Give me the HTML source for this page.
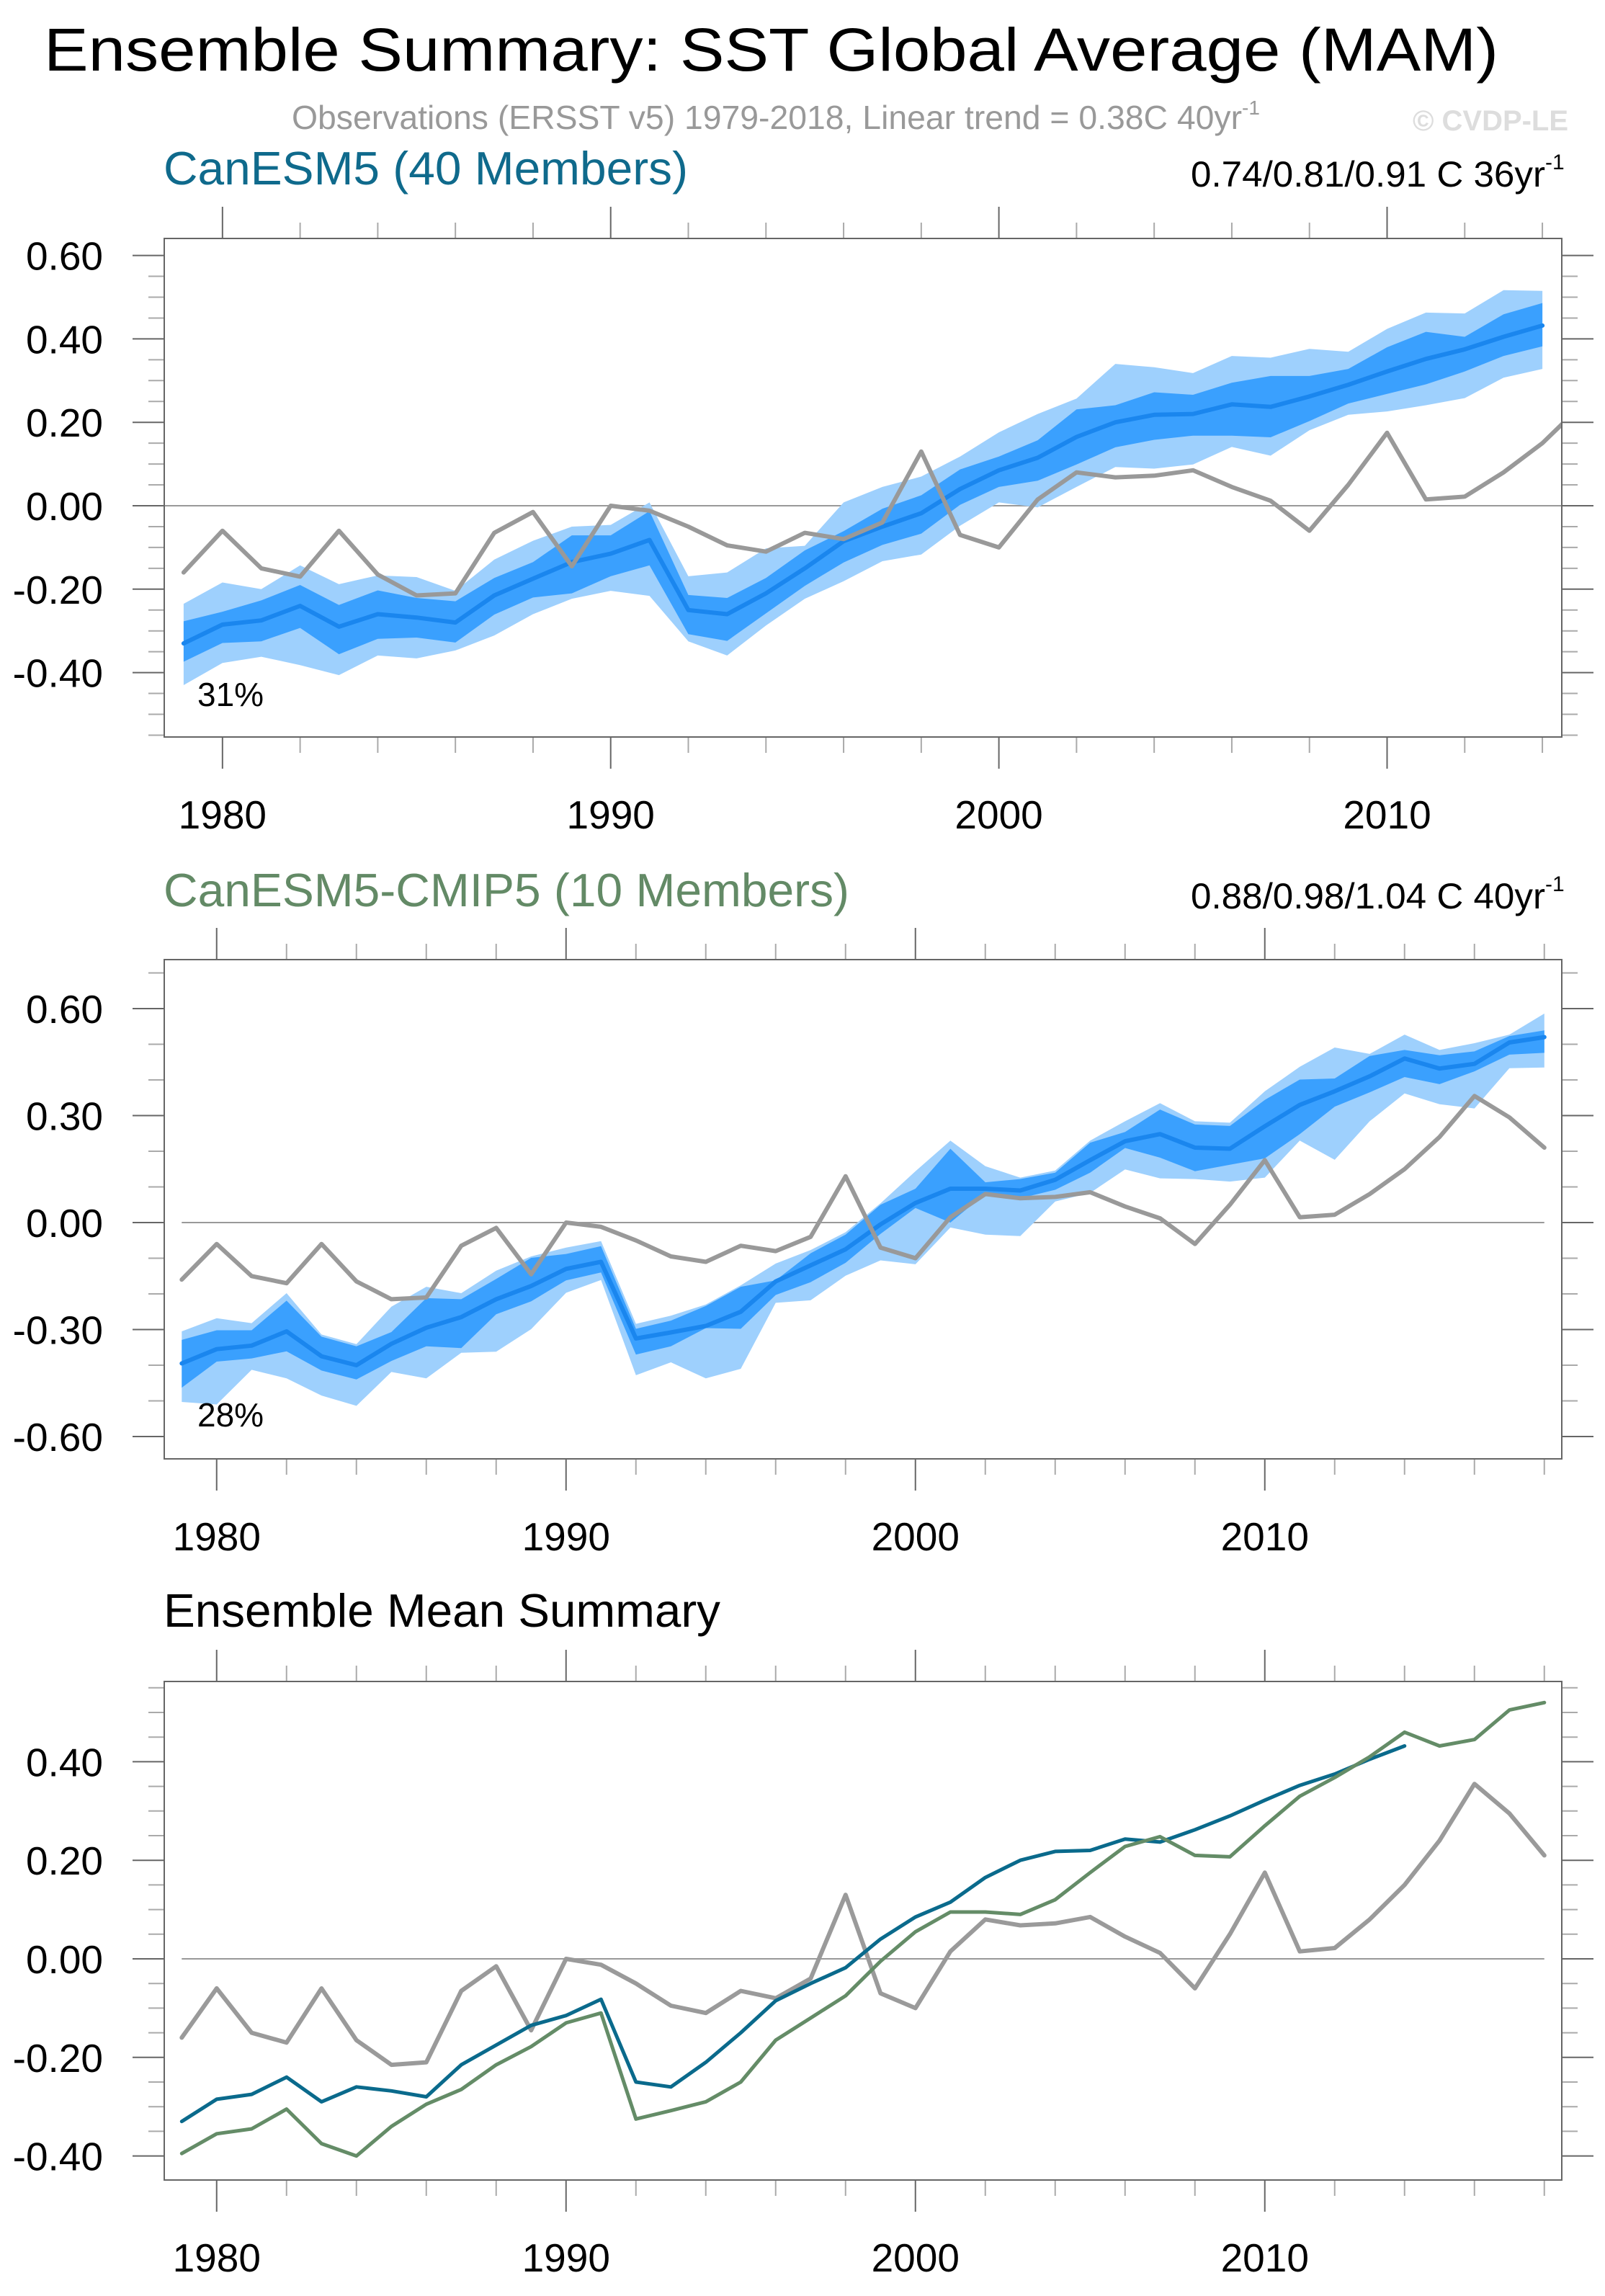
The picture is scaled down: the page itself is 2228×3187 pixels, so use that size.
<!DOCTYPE html>
<html><head><meta charset="utf-8"><style>
html,body{margin:0;padding:0;background:#fff;}
svg{display:block;font-family:"Liberation Sans",Arial,sans-serif;}
</style></head><body>
<svg id="chart" width="2228" height="3187" viewBox="0 0 2228 3187" xmlns="http://www.w3.org/2000/svg">
<rect width="2228" height="3187" fill="#fff"/>
<text x="61" y="98" font-size="84" textLength="2019" lengthAdjust="spacingAndGlyphs" fill="#000">Ensemble Summary: SST Global Average (MAM)</text>
<text x="405" y="179" font-size="46" fill="#999"><tspan textLength="1319" lengthAdjust="spacingAndGlyphs">Observations (ERSST v5) 1979-2018, Linear trend = 0.38C 40yr</tspan><tspan font-size="28" dy="-20">-1</tspan></text>
<text x="1961" y="181" font-size="40" font-weight="bold" fill="#ddd" textLength="216" lengthAdjust="spacingAndGlyphs">© CVDP-LE</text>
<text x="227" y="256" font-size="65" fill="#0f6a8c" textLength="728" lengthAdjust="spacingAndGlyphs">CanESM5 (40 Members)</text>
<text x="1653" y="259" font-size="50" fill="#000"><tspan textLength="492" lengthAdjust="spacingAndGlyphs">0.74/0.81/0.91 C 36yr</tspan><tspan font-size="30" dy="-24">-1</tspan></text>
<text x="227" y="1258" font-size="65" fill="#638a66" textLength="952" lengthAdjust="spacingAndGlyphs">CanESM5-CMIP5 (10 Members)</text>
<text x="1653" y="1261" font-size="50" fill="#000"><tspan textLength="492" lengthAdjust="spacingAndGlyphs">0.88/0.98/1.04 C 40yr</tspan><tspan font-size="30" dy="-24">-1</tspan></text>
<text x="227" y="2258" font-size="65" fill="#000" textLength="773" lengthAdjust="spacingAndGlyphs">Ensemble Mean Summary</text>
</svg>
<script>
// ---- data ----
const years1 = [1979,1980,1981,1982,1983,1984,1985,1986,1987,1988,1989,1990,1991,1992,1993,1994,1995,1996,1997,1998,1999,2000,2001,2002,2003,2004,2005,2006,2007,2008,2009,2010,2011,2012,2013,2014];
const years2 = [1979,1980,1981,1982,1983,1984,1985,1986,1987,1988,1989,1990,1991,1992,1993,1994,1995,1996,1997,1998,1999,2000,2001,2002,2003,2004,2005,2006,2007,2008,2009,2010,2011,2012,2013,2014,2015,2016,2017,2018];
const obs = [-0.16,-0.06,-0.15,-0.17,-0.06,-0.165,-0.215,-0.21,-0.065,-0.015,-0.145,0.0,-0.012,-0.05,-0.095,-0.11,-0.065,-0.08,-0.04,0.13,-0.07,-0.10,0.015,0.08,0.068,0.072,0.085,0.045,0.012,-0.06,0.05,0.175,0.015,0.022,0.08,0.15,0.24,0.355,0.295,0.21];
const canMean = [-0.33,-0.285,-0.275,-0.24,-0.29,-0.26,-0.268,-0.28,-0.215,-0.175,-0.135,-0.115,-0.082,-0.25,-0.26,-0.21,-0.15,-0.085,-0.05,-0.018,0.04,0.085,0.115,0.165,0.2,0.218,0.22,0.243,0.237,0.262,0.29,0.322,0.352,0.375,0.405,0.432];
const canOuterTop = [-0.235,-0.184,-0.2,-0.143,-0.188,-0.167,-0.171,-0.204,-0.129,-0.084,-0.05,-0.046,0.008,-0.169,-0.16,-0.102,-0.096,0.008,0.045,0.07,0.118,0.176,0.22,0.257,0.34,0.332,0.318,0.359,0.355,0.376,0.369,0.424,0.463,0.461,0.517,0.515];
const canInnerTop = [-0.277,-0.254,-0.227,-0.19,-0.238,-0.203,-0.221,-0.229,-0.173,-0.135,-0.071,-0.071,-0.013,-0.214,-0.221,-0.173,-0.107,-0.061,-0.007,0.025,0.087,0.118,0.157,0.231,0.241,0.272,0.266,0.295,0.311,0.311,0.328,0.38,0.417,0.405,0.459,0.486];
const canInnerBot = [-0.374,-0.329,-0.325,-0.293,-0.356,-0.319,-0.316,-0.328,-0.261,-0.22,-0.21,-0.169,-0.143,-0.308,-0.324,-0.258,-0.192,-0.136,-0.094,-0.067,0.002,0.045,0.06,0.099,0.14,0.158,0.168,0.168,0.164,0.203,0.245,0.268,0.291,0.322,0.359,0.382];
const canOuterBot = [-0.43,-0.377,-0.362,-0.382,-0.406,-0.359,-0.366,-0.347,-0.311,-0.26,-0.223,-0.204,-0.216,-0.325,-0.359,-0.287,-0.223,-0.181,-0.133,-0.117,-0.048,0.008,-0.004,0.045,0.093,0.089,0.099,0.141,0.12,0.181,0.218,0.226,0.241,0.258,0.307,0.328];
const cmMean = [-0.395,-0.355,-0.345,-0.305,-0.375,-0.40,-0.34,-0.295,-0.265,-0.215,-0.178,-0.13,-0.11,-0.325,-0.308,-0.29,-0.25,-0.165,-0.12,-0.075,-0.005,0.055,0.095,0.095,0.09,0.12,0.175,0.228,0.248,0.21,0.207,0.27,0.33,0.368,0.41,0.46,0.432,0.445,0.505,0.52];
const cmOuterTop = [-0.305,-0.268,-0.282,-0.198,-0.314,-0.341,-0.236,-0.18,-0.198,-0.135,-0.095,-0.07,-0.052,-0.284,-0.261,-0.23,-0.176,-0.115,-0.077,-0.027,0.054,0.144,0.23,0.158,0.126,0.146,0.23,0.284,0.335,0.284,0.28,0.368,0.437,0.491,0.473,0.527,0.484,0.503,0.527,0.586];
const cmInnerTop = [-0.329,-0.302,-0.302,-0.219,-0.32,-0.347,-0.307,-0.212,-0.215,-0.158,-0.099,-0.088,-0.066,-0.298,-0.275,-0.234,-0.18,-0.162,-0.086,-0.034,0.05,0.095,0.207,0.113,0.122,0.14,0.224,0.254,0.317,0.275,0.271,0.344,0.401,0.404,0.467,0.484,0.469,0.48,0.523,0.539];
const cmInnerBot = [-0.463,-0.39,-0.381,-0.361,-0.415,-0.44,-0.388,-0.347,-0.352,-0.257,-0.221,-0.162,-0.14,-0.37,-0.347,-0.296,-0.298,-0.203,-0.167,-0.113,-0.032,0.041,0.0,0.081,0.068,0.092,0.14,0.209,0.182,0.144,0.162,0.18,0.248,0.325,0.365,0.408,0.388,0.424,0.471,0.476];
const cmOuterBot = [-0.503,-0.51,-0.413,-0.437,-0.485,-0.514,-0.419,-0.437,-0.365,-0.362,-0.299,-0.197,-0.161,-0.428,-0.392,-0.437,-0.41,-0.225,-0.218,-0.149,-0.106,-0.117,-0.014,-0.034,-0.038,0.059,0.083,0.149,0.124,0.122,0.115,0.126,0.23,0.176,0.284,0.362,0.332,0.32,0.433,0.435];
const xTickLabels = ["1980","1990","2000","2010"];
const yTicks1 = ["0.60","0.40","0.20","0.00","-0.20","-0.40"];
const yTicks2 = ["0.60","0.30","0.00","-0.30","-0.60"];
const yTicks3 = ["0.40","0.20","0.00","-0.20","-0.40"];

const NS = "http://www.w3.org/2000/svg";
const svg = document.getElementById('chart');
function mk(tag, attrs, parent) {
  const e = document.createElementNS(NS, tag);
  for (const k in attrs) e.setAttribute(k, attrs[k]);
  (parent || svg).appendChild(e);
  return e;
}
const FL = 228, FR = 2168;

function makePanel(p) {
  const xs = v => FL + (v - p.x0) * (FR - FL) / (p.x1 - p.x0);
  const ys = v => p.yZero - v * p.scale;
  const g = mk('g', {});
  
  
  const cid = p.name + '-clip';
  const cp = mk('clipPath', {id: cid}, g);
  mk('rect', {x: FL, y: p.top, width: FR - FL, height: p.bot - p.top}, cp);
  // y ticks
  for (let v = p.yMinTick; v <= p.yMaxTick + 1e-9; v += p.yMinor) {
    const isMaj = Math.abs(Math.round(v / p.yMajor) * p.yMajor - v) < 1e-6;
    const len = isMaj ? 44 : 22;
    const col = isMaj ? '#666' : '#aaa';
    const yy = ys(v);
    const tl = mk('line', {x1: FL - len, x2: FL, y1: yy, y2: yy, stroke: col, 'stroke-width': 2}, g);
    
    
    const tr = mk('line', {x1: FR, x2: FR + len, y1: yy, y2: yy, stroke: col, 'stroke-width': 2}, g);
    
    
  }
  p.yLabels.forEach(lab => {
    const t = mk('text', {x: 143, y: ys(parseFloat(lab)) + 20, 'font-size': 55, 'text-anchor': 'end', fill: '#000'}, g);
    t.textContent = lab;
    
    
  });
  // x ticks
  for (let yr = 1980; yr <= p.x1; yr += 2) {
    const isMaj = yr % 10 === 0;
    const len = isMaj ? 44 : 22;
    const col = isMaj ? '#666' : '#aaa';
    const xx = xs(yr);
    const tt = mk('line', {x1: xx, x2: xx, y1: p.top - len, y2: p.top, stroke: col, 'stroke-width': 2}, g);
    
    
    const tb = mk('line', {x1: xx, x2: xx, y1: p.bot, y2: p.bot + len, stroke: col, 'stroke-width': 2}, g);
    
    
  }
  xTickLabels.forEach(lab => {
    const t = mk('text', {x: xs(parseInt(lab)), y: p.bot + 127, 'font-size': 55, 'text-anchor': 'middle', fill: '#000'}, g);
    t.textContent = lab;
    
    
  });
  const pg = mk('g', {'clip-path': 'url(#' + cid + ')'}, g);
  // zero line
  const zx0 = p.zeroFull ? FL : xs(p.years[0]);
  const zl = mk('line', {x1: zx0, x2: p.zeroFull ? FR : xs(p.zeroEnd), y1: ys(0), y2: ys(0), stroke: '#999', 'stroke-width': 2}, pg);
  
  
  function band(top, bot, fill, name) {
    let d = '';
    p.years.forEach((yr, i) => { d += (i ? 'L' : 'M') + xs(yr).toFixed(1) + ',' + ys(top[i]).toFixed(1); });
    for (let i = p.years.length - 1; i >= 0; i--) d += 'L' + xs(p.years[i]).toFixed(1) + ',' + ys(bot[i]).toFixed(1);
    const e = mk('path', {d: d + 'Z', fill: fill}, pg);
    
    
  }
  function line(yrs, vals, col, w, name) {
    const pts = yrs.map((yr, i) => xs(yr).toFixed(1) + ',' + ys(vals[i]).toFixed(1)).join(' ');
    const e = mk('polyline', {points: pts, fill: 'none', stroke: col, 'stroke-width': w, 'stroke-linejoin': 'round', 'stroke-linecap': 'round'}, pg);
    
    
  }
  if (p.bands) {
    band(p.bands[0], p.bands[3], '#9ed0fd', 'ensemble-10-90-band');
    band(p.bands[1], p.bands[2], '#3aa0fe', 'ensemble-25-75-band');
    line(p.years, p.mean, '#1a86ee', 6, 'ensemble-mean-line');
    line(years2, obs, '#999', 6, 'observations-line');
  } else {
    line(years2, obs, '#9a9a9a', 6, 'observations-line');
    line(years1, canMean, '#0a6a8c', 5, 'canesm5-mean-line');
    line(years2, cmMean, '#648c67', 5, 'canesm5-cmip5-mean-line');
  }
  const fr = mk('rect', {x: FL, y: p.top, width: FR - FL, height: p.bot - p.top, fill: 'none', stroke: '#666', 'stroke-width': 2}, g);
  
  
  if (p.pct) {
    const t = mk('text', {x: 274, y: p.pctY, 'font-size': 46, fill: '#000'}, g);
    t.textContent = p.pct;
    
    
  }
}

makePanel({name: 'canesm5-panel', x0: 1978.5, x1: 2014.5, top: 331, bot: 1023, yZero: 702, scale: 579,
  yMinTick: -0.55, yMaxTick: 0.60, yMinor: 0.05, yMajor: 0.2, yLabels: yTicks1, years: years1,
  bands: [canOuterTop, canInnerTop, canInnerBot, canOuterBot], mean: canMean, zeroFull: true, pct: '31%', pctY: 980});
makePanel({name: 'canesm5-cmip5-panel', x0: 1978.5, x1: 2018.5, top: 1332, bot: 2025, yZero: 1697, scale: 495,
  yMinTick: -0.60, yMaxTick: 0.70, yMinor: 0.1, yMajor: 0.3, yLabels: yTicks2, years: years2,
  bands: [cmOuterTop, cmInnerTop, cmInnerBot, cmOuterBot], mean: cmMean, zeroFull: false, zeroEnd: 2018, pct: '28%', pctY: 1980});
makePanel({name: 'ensemble-mean-panel', x0: 1978.5, x1: 2018.5, top: 2334, bot: 3026, yZero: 2719, scale: 684,
  yMinTick: -0.40, yMaxTick: 0.55, yMinor: 0.05, yMajor: 0.2, yLabels: yTicks3, years: years2,
  bands: null, zeroFull: false, zeroEnd: 2018});
</script>
</body></html>
